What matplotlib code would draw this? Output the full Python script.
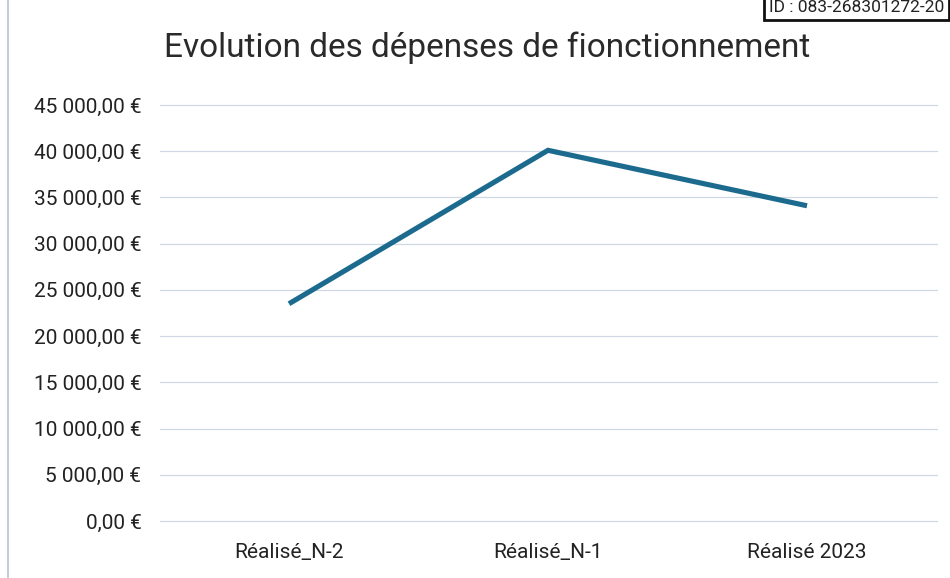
import matplotlib
matplotlib.use("Agg")
import matplotlib.pyplot as plt
from matplotlib.ticker import MultipleLocator, FuncFormatter
from matplotlib.lines import Line2D

categories = ["Réalisé_N-2", "Réalisé_N-1", "Réalisé 2023"]
values = [23500, 40100, 34100]
title = "Evolution des dépenses de fionctionnement"
id_text = "ID : 083-268301272-20"

plt.rcParams['font.family'] = ['Roboto', 'DejaVu Sans']

fig = plt.figure(figsize=(9.5, 5.78), dpi=100)
ax = fig.add_axes([159.5/950, 1 - 521/578, (936.5-159.5)/950, (521-105)/578])

x = list(range(len(categories)))
ax.plot(x, values, color='#1c6b8f', linewidth=3.7, solid_capstyle='butt', solid_joinstyle='miter', zorder=3)

ax.set_xlim(-0.5, len(categories) - 0.5)
ax.set_ylim(0, 45000)
ax.yaxis.set_major_locator(MultipleLocator(5000))

def fmt(v, pos):
    s = f"{v:,.2f}".replace(",", " ").replace(".", ",")
    return s + " €"
ax.yaxis.set_major_formatter(FuncFormatter(fmt))
ax.set_xticks(x)
ax.set_xticklabels(categories)

ax.grid(axis='y', color='#cfd8e3', linewidth=0.9)
for gl in ax.get_ygridlines():
    gl.set_clip_on(False)
ax.set_axisbelow(True)
for s in ax.spines.values():
    s.set_visible(False)
ax.tick_params(axis='both', length=0, labelsize=15, colors='#222222')
ax.tick_params(axis='y', pad=13)
ax.tick_params(axis='x', pad=16)

fig.text(487/950, 1 - 48/578, title, ha='center', va='center', fontsize=24, color='#2a2a2a')

# left border line
fig.add_artist(Line2D([8/950, 8/950], [0, 1], color='#b8c4d4', linewidth=1.2, transform=fig.transFigure))

# ID stamp box (top right)
fig.text(944/950, 1 - 7/578, id_text, ha='right', va='center', fontsize=12.5, color='#222222',
         bbox=dict(boxstyle='square,pad=0.3', facecolor='white', edgecolor='#111111', linewidth=2))

fig.savefig("out.png", dpi=100, facecolor='white')
